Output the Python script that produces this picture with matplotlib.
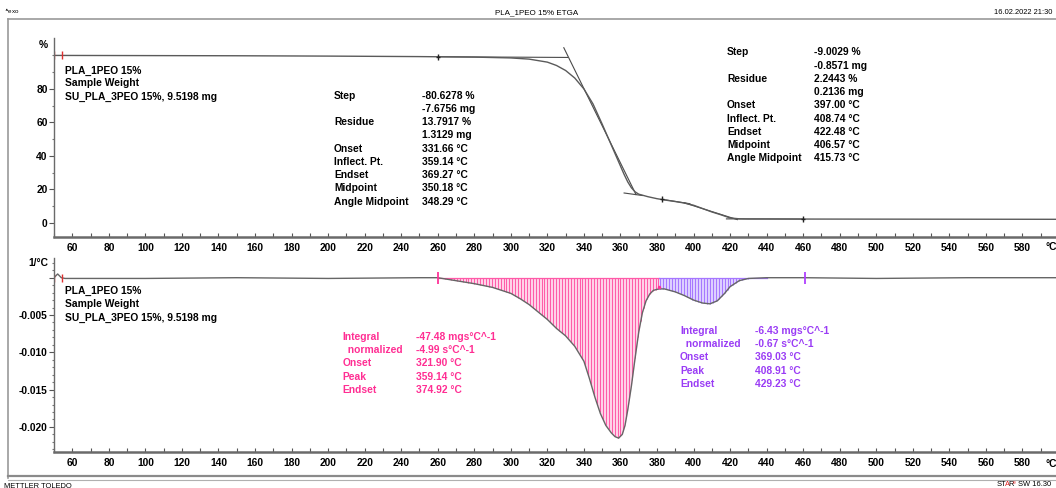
import numpy as np
import matplotlib
matplotlib.use("Agg")
import matplotlib.pyplot as plt
from matplotlib.ticker import MultipleLocator, FixedLocator

plt.rcParams['font.family'] = ['Liberation Sans', 'DejaVu Sans']
plt.rcParams['font.weight'] = 'bold'

W, H = 1056, 488

# ---- TGA curve: mass (%) vs temperature (°C)
tga_temp = [50, 100, 150, 200, 250, 280, 300, 310, 320, 325, 330, 335, 340, 345,
            350, 355, 358, 360, 362, 364, 366, 368, 370, 375, 380, 385, 390, 395,
            400, 405, 410, 415, 420, 425, 430, 440, 460, 500, 550, 600]
tga_mass = [100.0, 99.9, 99.8, 99.6, 99.3, 99.0, 98.5, 97.8, 96.0, 94.0, 91.0, 86.5,
            80.0, 71.0, 59.0, 46.5, 39.0, 34.0, 29.0, 24.5, 21.0, 18.6, 17.2, 15.7,
            14.5, 13.6, 12.8, 11.9, 10.6, 8.6, 6.6, 4.9, 3.0, 2.5, 2.4, 2.4, 2.35,
            2.3, 2.25, 2.2]

# ---- DTG curve: first derivative (1/°C) vs temperature (°C)
dtg_temp = [50, 52, 54, 56, 100, 150, 200, 250, 260, 265, 270, 280, 290, 300, 305,
            310, 315, 320, 325, 330, 335, 340, 343, 346, 349, 352, 355, 357, 359,
            361, 362.5, 364, 366, 368, 370, 372, 374, 376, 378, 381, 384, 390, 395,
            400, 405, 409, 413, 417, 420, 425, 430, 440, 460, 500, 550, 600]
dtg_val = [0.0, 0.0005, 0.0, -0.0001, -0.0001, 0.0, -0.0001, 0.0, 0.0, -0.0002,
           -0.0004, -0.0008, -0.0013, -0.0021, -0.0028, -0.0036, -0.0046, -0.0056,
           -0.0068, -0.0078, -0.0092, -0.0112, -0.0135, -0.0160, -0.0182, -0.0198,
           -0.0208, -0.0213, -0.0215, -0.0210, -0.0198, -0.0177, -0.0145, -0.0108,
           -0.0073, -0.0047, -0.0031, -0.0022, -0.0017, -0.0015, -0.0015, -0.0019,
           -0.0024, -0.0030, -0.0034, -0.0035, -0.0031, -0.0021, -0.0012, -0.0004,
           -0.0001, 0.0, 0.0, -0.0001, 0.0, 0.0]

# integration limits of the two DTG peaks (°C)
peak1_range = [260, 381]
peak2_range = [381, 440]

# evaluation tangents of the two TGA steps: (T1, m1, T2, m2)
tga_tangents = [
    (260, 99.2, 331, 98.8),        # step 1 upper baseline
    (329, 104.6, 368.5, 17.0),     # step 1 inflection tangent
    (362, 17.9, 372, 16.4),        # step 1 lower baseline
    (383, 14.1, 398, 11.5),        # step 2 upper baseline
    (395, 12.0, 424, 2.0),         # step 2 inflection tangent
    (418, 2.45, 460, 2.35),        # step 2 lower baseline
]
tga_markers_t = [260, 383, 460]
tga_markers_m = [99.3, 14.2, 2.35]

x_major = list(range(60, 600, 20))
tga_yticks = [0, 20, 40, 60, 80]
dtg_yticks = [-0.020, -0.015, -0.010, -0.005, 0.0]
dtg_yticklabels = ['-0.020', '-0.015', '-0.010', '-0.005', '']

sample_lines = ['PLA_1PEO 15%', 'Sample Weight', 'SU_PLA_3PEO 15%, 9.5198 mg']
step_labels = ['Step', '', 'Residue', '', 'Onset', 'Inflect. Pt.', 'Endset',
               'Midpoint', 'Angle Midpoint']
step1_values = ['-80.6278 %', '-7.6756 mg', '13.7917 %', '1.3129 mg', '331.66 °C',
                '359.14 °C', '369.27 °C', '350.18 °C', '348.29 °C']
step2_values = ['-9.0029 %', '-0.8571 mg', '2.2443 %', '0.2136 mg', '397.00 °C',
                '408.74 °C', '422.48 °C', '406.57 °C', '415.73 °C']
peak_labels = ['Integral', '  normalized', 'Onset', 'Peak', 'Endset']
peak1_values = ['-47.48 mgs°C^-1', '-4.99 s°C^-1', '321.90 °C', '359.14 °C', '374.92 °C']
peak2_values = ['-6.43 mgs°C^-1', '-0.67 s°C^-1', '369.03 °C', '408.91 °C', '429.23 °C']

PINK = '#ff2e93'
PINK_LINE = '#ff5aa8'
PINK_FILL = '#ffd2e8'
PURPLE = '#9a3cf5'
PURPLE_LINE = '#a676ff'
PURPLE_FILL = '#ddd0ff'
AXCOL = '#6a6a6a'
FS = 7.4


def px_rect(l, t, r, b):
    return [l / W, 1 - b / H, (r - l) / W, (b - t) / H]


def ftext(x, y, s, **kw):
    kw.setdefault('fontsize', FS)
    kw.setdefault('va', 'center')
    kw.setdefault('ha', 'left')
    fig.text(x / W, 1 - y / H, s, **kw)


fig = plt.figure(figsize=(W / 100, H / 100), dpi=100)
fig.patch.set_facecolor('white')

# page frame
frame = fig.add_axes([0, 0, 1, 1], zorder=-5)
frame.set_xlim(0, W)
frame.set_ylim(H, 0)
frame.axis('off')
frame.plot([8, W], [19, 19], color='#9a9a9a', lw=1.2)
frame.plot([8, 8], [19, 478], color='#9a9a9a', lw=1.2)
frame.plot([8, W], [476, 476], color='#8a8a8a', lw=1.6)
frame.plot([8, W], [480, 480], color='#b0b0b0', lw=0.8)

ftext(4, 12, '$^{\\wedge}$exo', fontsize=4.5, fontweight='normal')
ftext(537, 13, 'PLA_1PEO 15% ETGA', fontsize=5.8, ha='center', fontweight='normal')
ftext(1052, 13, '16.02.2022 21:30', fontsize=5.4, ha='right', fontweight='normal')
ftext(4, 486, 'METTLER TOLEDO', fontsize=5.4, fontweight='normal')
ftext(997, 485, 'ST', fontsize=5.4, fontweight='normal')
ftext(1004.5, 485, 'A', fontsize=5.4, fontweight='normal', color='#e02020')
ftext(1008.5, 485, 'R', fontsize=5.4, fontweight='normal')
ftext(1013, 483, 'e', fontsize=3.5, fontweight='normal', color='#e02020')
ftext(1018, 485, 'SW 16.30', fontsize=5.4, fontweight='normal')


def style_axes(ax):
    for side in ('top', 'right'):
        ax.spines[side].set_visible(False)
    ax.spines['left'].set_color(AXCOL)
    ax.spines['left'].set_linewidth(1.0)
    ax.spines['bottom'].set_color(AXCOL)
    ax.spines['bottom'].set_linewidth(1.8)
    ax.set_xlim(50, 600)
    ax.xaxis.set_major_locator(FixedLocator(x_major))
    ax.xaxis.set_minor_locator(MultipleLocator(10))
    ax.tick_params(axis='x', which='both', direction='in', length=3, width=0.8,
                   color='#555555', labelsize=FS, pad=4)
    ax.tick_params(axis='y', which='major', direction='out', length=3.5, width=0.8,
                   color='#555555', labelsize=FS, pad=1)
    ax.tick_params(axis='y', which='minor', direction='out', length=1.8, width=0.8,
                   color='#777777')
    ax.patch.set_alpha(0)


# ---------------- TGA panel
ax1 = fig.add_axes(px_rect(54, 38, 1059, 237))
style_axes(ax1)
ax1.set_ylim(-8.36, 110.4)
ax1.yaxis.set_major_locator(FixedLocator(tga_yticks))
ax1.yaxis.set_minor_locator(FixedLocator([10, 30, 50, 70, 90, 100]))

for t1, m1, t2, m2 in tga_tangents:
    ax1.plot([t1, t2], [m1, m2], color='#4a4a4a', lw=0.8)
ax1.plot(tga_temp, tga_mass, color='#5a5a5a', lw=1.0)
ax1.plot(tga_markers_t, tga_markers_m, ls='none', marker='|', ms=5, mew=1.0, color='#222222')
ax1.plot(tga_markers_t, tga_markers_m, ls='none', marker='_', ms=3, mew=1.0, color='#222222')
ax1.plot([50, 54.5], [tga_mass[0], tga_mass[0]], ls='none', marker='|', ms=6, mew=1.0,
         color='#e03030')

# ---------------- DTG panel
ax2 = fig.add_axes(px_rect(54, 258, 1059, 452))
style_axes(ax2)
ax2.set_ylim(-0.02336, 0.00264)
ax2.yaxis.set_major_locator(FixedLocator(dtg_yticks))
ax2.set_yticklabels(dtg_yticklabels)
ax2.yaxis.set_minor_locator(MultipleLocator(0.001))

tt = np.array(dtg_temp, dtype=float)
vv = np.array(dtg_val, dtype=float)
for (lo, hi), fill_c, line_c in ((peak1_range, PINK_FILL, PINK_LINE),
                                 (peak2_range, PURPLE_FILL, PURPLE_LINE)):
    m = (tt >= lo) & (tt <= hi)
    ax2.fill_between(tt[m], vv[m], 0, color=fill_c, lw=0)
    xs = np.arange(lo + 0.8, hi, 1.6)
    ax2.vlines(xs, np.interp(xs, tt, vv), 0, colors=line_c, lw=0.7)
    ax2.plot([lo, hi], [0, 0], color=line_c, lw=0.9)

ax2.plot(dtg_temp, dtg_val, color='#666666', lw=1.0)
ax2.plot([50, 54.5], [0, 0], ls='none', marker='|', ms=6, mew=1.0, color='#e03030')
ax2.plot([260], [0], ls='none', marker='|', ms=8, mew=1.3, color='#ff3399')
ax2.plot([461], [0], ls='none', marker='|', ms=8, mew=1.3, color='#b040ff')
ax2.plot([381], [-0.0012], ls='none', marker='.', ms=3, color='#ff3399')

# axis unit labels
ftext(48, 45, '%', ha='right')
ftext(48, 263, '1/°C', ha='right')
ftext(1045, 247, '°C')
ftext(1045, 464, '°C')

# sample info blocks
for i, s in enumerate(sample_lines):
    ftext(65, 70.5 + 13 * i, s)
    ftext(65, 291 + 13.3 * i, s)

# TGA step evaluations
for i, (lab, v1, v2) in enumerate(zip(step_labels, step1_values, step2_values)):
    y1 = 95.7 + 13.25 * i
    y2 = 52.3 + 13.25 * i
    if lab:
        ftext(334, y1, lab)
        ftext(727, y2, lab)
    ftext(422, y1, v1)
    ftext(814, y2, v2)

# DTG peak evaluations
for i, (lab, v1, v2) in enumerate(zip(peak_labels, peak1_values, peak2_values)):
    ftext(342.5, 336.7 + 13.3 * i, lab, color=PINK)
    ftext(416, 336.7 + 13.3 * i, v1, color=PINK)
    ftext(680, 330.7 + 13.35 * i, lab, color=PURPLE)
    ftext(755, 330.7 + 13.35 * i, v2, color=PURPLE)

fig.savefig('out.png', dpi=100)
